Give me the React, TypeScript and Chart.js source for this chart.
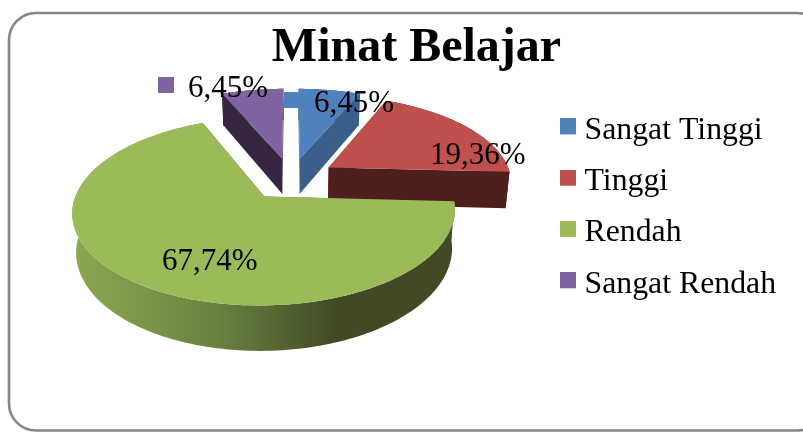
import React, { useEffect, useRef } from "react";
import { Chart, registerables } from "chart.js";

Chart.register(...registerables);

const chartTitle = "Minat Belajar";
const categories = ["Sangat Tinggi", "Tinggi", "Rendah", "Sangat Rendah"];
const seriesValues = [6.45, 19.36, 67.74, 6.45];
const valueLabels = ["6,45%", "19,36%", "67,74%", "6,45%"];
const topColors = ["#4F81BD", "#C0504D", "#9BBB59", "#8064A2"];
const sideColors = ["#3A5F8B", "#4F1F1E", "#434C25", "#362641"];

const SERIF = "'Liberation Serif', 'Times New Roman', serif";

// perspective of the pie plane on screen
const view = { ox: 291, oy: 178.5, a: 183, b: 86, k: 0.154, depth: 37, shrink: 0.982 };

function project(u: number, v: number, lower: boolean) {
  const w = 1 - view.k * v;
  let x = view.ox + (view.a * u) / w;
  let y = view.oy + (view.b * v) / w;
  if (lower) {
    x = view.ox + (x - view.ox) * view.shrink;
    y += view.depth / w;
  }
  return { x, y };
}

function sliceGeometry(el: any) {
  const { startAngle, endAngle, outerRadius } = el.getProps(["startAngle", "endAngle", "outerRadius"], true);
  const offset = el.options.offset || 0;
  const mid = (startAngle + endAngle) / 2;
  const cu = (offset * Math.cos(mid)) / outerRadius;
  const cv = (offset * Math.sin(mid)) / outerRadius;
  const steps = Math.max(8, Math.ceil((endAngle - startAngle) * 40));
  const rim: { u: number; v: number }[] = [];
  for (let i = 0; i <= steps; i++) {
    const t = startAngle + ((endAngle - startAngle) * i) / steps;
    rim.push({ u: cu + Math.cos(t), v: cv + Math.sin(t) });
  }
  return { cu, cv, rim };
}

function tracePolygon(ctx: CanvasRenderingContext2D, pts: { x: number; y: number }[]) {
  ctx.beginPath();
  pts.forEach((p, i) => (i ? ctx.lineTo(p.x, p.y) : ctx.moveTo(p.x, p.y)));
  ctx.closePath();
}

const pie3d = {
  id: "pie3d",
  beforeDraw(chart: any) {
    const ctx: CanvasRenderingContext2D = chart.ctx;
    ctx.save();
    ctx.fillStyle = "#fff";
    ctx.fillRect(0, 0, chart.width, chart.height);
    ctx.beginPath();
    ctx.roundRect(9, 13, 815, 417.5, 27);
    ctx.strokeStyle = "#868686";
    ctx.lineWidth = 2.6;
    ctx.stroke();
    ctx.restore();
  },
  afterLayout(chart: any) {
    chart.legend.left = 567.5 - 19.4;
    chart.legend.top = 95;
  },
  beforeDatasetDraw(chart: any) {
    const ctx: CanvasRenderingContext2D = chart.ctx;
    const meta = chart.getDatasetMeta(0);
    ctx.save();
    [3, 0, 1, 2].forEach((index) => {
      const { cu, cv, rim } = sliceGeometry(meta.data[index]);
      const top = rim.map((p) => project(p.u, p.v, false));
      const low = rim.map((p) => project(p.u, p.v, true));
      const apexTop = project(cu, cv, false);
      const apexLow = project(cu, cv, true);
      let side: string | CanvasGradient = sideColors[index];
      if (index === 2) {
        const g = ctx.createLinearGradient(75, 0, 335, 0);
        g.addColorStop(0, "#8BA751");
        g.addColorStop(0.55, "#6A8240");
        g.addColorStop(1, "#414A24");
        side = g;
      }
      // outer wall
      tracePolygon(ctx, [...top, ...low.slice().reverse()]);
      ctx.fillStyle = side;
      ctx.fill();
      // cut faces
      ctx.fillStyle = sideColors[index];
      tracePolygon(ctx, [apexTop, top[0], low[0], apexLow]);
      ctx.fill();
      tracePolygon(ctx, [apexTop, top[top.length - 1], low[low.length - 1], apexLow]);
      ctx.fill();
      // top face
      tracePolygon(ctx, [apexTop, ...top]);
      ctx.fillStyle = topColors[index];
      ctx.fill();
    });
    ctx.restore();
    return false;
  },
  afterDatasetsDraw(chart: any) {
    const ctx: CanvasRenderingContext2D = chart.ctx;
    // label text left/middle, key left/top for each value label
    const anchors = [
      { x: 314, y: 104, kx: 284, ky: 92 },
      { x: 430, y: 156, kx: 405, ky: 147 },
      { x: 162, y: 262, kx: 133, ky: 250 },
      { x: 188, y: 89, kx: 158, ky: 77 },
    ];
    ctx.save();
    ctx.textBaseline = "middle";
    ctx.textAlign = "left";
    valueLabels.forEach((text, i) => {
      const a = anchors[i];
      ctx.fillStyle = topColors[i];
      ctx.fillRect(a.kx, a.ky, 16, 16);
      ctx.fillStyle = "#000";
      ctx.font = `31px ${SERIF}`;
      ctx.fillText(text, a.x, a.y);
    });
    ctx.restore();
  },
};

function legendKey(color: string) {
  // the key sits in the top of a taller transparent image, so it rides above the text's middle
  const c = document.createElement("canvas");
  c.width = 16;
  c.height = 24;
  const g = c.getContext("2d")!;
  g.fillStyle = color;
  g.fillRect(0, 0, 16, 16);
  return c;
}

export default function App() {
  const ref = useRef<HTMLCanvasElement>(null);
  useEffect(() => {
    document.body.style.margin = "0";
    const chart = new Chart(ref.current!, {
      type: "pie",
      data: {
        labels: categories,
        datasets: [{ data: seriesValues, backgroundColor: topColors, borderWidth: 0, offset: 39 }],
      },
      options: {
        responsive: false,
        animation: false,
        layout: { padding: { left: 30 } },
        plugins: {
          tooltip: { enabled: false },
          title: {
            display: true,
            text: chartTitle,
            color: "#000",
            font: { family: SERIF, size: 48, weight: "bold", lineHeight: 1.2 },
            padding: { top: 20, bottom: 0 },
          },
          legend: {
            display: true,
            position: "right",
            align: "start",
            labels: {
              color: "#000",
              font: { family: SERIF, size: 31.8, lineHeight: 1 },
              padding: 19.5,
              usePointStyle: true,
              pointStyleWidth: 1,
              boxHeight: 16,
              generateLabels: () =>
                categories.map((text, i) => ({
                  text,
                  fillStyle: topColors[i],
                  strokeStyle: topColors[i],
                  lineWidth: 0,
                  pointStyle: legendKey(topColors[i]),
                  hidden: false,
                  index: i,
                })),
            },
          },
        },
      } as any,
      plugins: [pie3d],
    });
    return () => chart.destroy();
  }, []);
  return <canvas ref={ref} width={803} height={432} style={{ display: "block" }} />;
}
